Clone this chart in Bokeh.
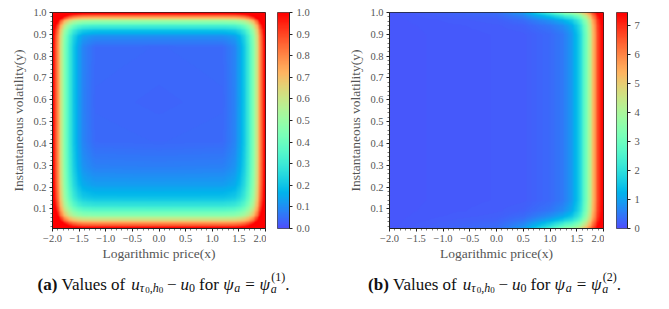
import numpy as np
from bokeh.plotting import figure
from bokeh.models import LinearColorMapper, FixedTicker, Range1d, Label
from bokeh.layouts import column, row
from bokeh.embed import file_html
from bokeh.resources import INLINE

# ---------------- data ----------------
x_ticks = [-2.0, -1.5, -1.0, -0.5, 0.0, 0.5, 1.0, 1.5, 2.0]
x_tick_labels = ["\u22122.0", "\u22121.5", "\u22121.0", "\u22120.5", "0.0", "0.5", "1.0", "1.5", "2.0"]
y_ticks = [0.1, 0.2, 0.3, 0.4, 0.5, 0.6, 0.7, 0.8, 0.9, 1.0]
y_tick_labels = ["0.1", "0.2", "0.3", "0.4", "0.5", "0.6", "0.7", "0.8", "0.9", "1.0"]
cb_a_ticks = [0.0, 0.1, 0.2, 0.3, 0.4, 0.5, 0.6, 0.7, 0.8, 0.9, 1.0]
cb_a_labels = ["0.0", "0.1", "0.2", "0.3", "0.4", "0.5", "0.6", "0.7", "0.8", "0.9", "1.0"]
cb_b_ticks = [0, 1, 2, 3, 4, 5, 6, 7]
cb_b_labels = ["0", "1", "2", "3", "4", "5", "6", "7"]
x_min, x_max = -2.0, 2.0
y_min, y_max = 0.01, 1.0
cb_a_high = 1.0
cb_b_high = 7.45

# panel (a): value against distance from the left / right edge (x units)
a_side_dist = [0.0, 0.05, 0.10, 0.15, 0.20, 0.27, 0.36, 0.46, 0.58, 0.8, 4.0]
a_side_val = [1.0, 0.90, 0.76, 0.62, 0.50, 0.36, 0.24, 0.14, 0.07, 0.025, 0.01]
# value against distance from the top edge (y units)
a_top_dist = [0.0, 0.012, 0.025, 0.04, 0.06, 0.08, 0.11, 0.16, 1.0]
a_top_val = [1.0, 0.88, 0.68, 0.48, 0.32, 0.20, 0.09, 0.03, 0.01]
# value against distance from the bottom edge (y units)
a_bot_dist = [0.0, 0.015, 0.03, 0.06, 0.10, 0.14, 0.20, 0.28, 0.40, 1.0]
a_bot_val = [1.0, 0.86, 0.70, 0.46, 0.29, 0.19, 0.12, 0.07, 0.03, 0.01]

# panel (b): value against distance from the right edge (x units)
b_right_dist = [0.0, 0.05, 0.11, 0.20, 0.26, 0.36, 0.45, 0.60, 0.75, 1.0, 1.5, 4.0]
b_right_val = [7.45, 7.2, 6.5, 5.0, 4.0, 2.6, 1.6, 0.85, 0.5, 0.3, 0.16, 0.10]
# extra value reached at the top / bottom edge, against distance from the right edge
b_edge_dist = [0.0, 0.2, 0.4, 0.7, 1.1, 1.5, 2.0, 4.0]
b_edge_extra = [0.4, 1.5, 2.6, 2.9, 1.7, 0.7, 0.2, 0.0]
# share of that extra value against distance from the top / bottom edge (y units)
b_top_dist = [0.0, 0.01, 0.02, 0.035, 0.06, 0.10, 1.0]
b_top_share = [1.0, 0.75, 0.5, 0.25, 0.08, 0.0, 0.0]
b_bot_dist = [0.0, 0.015, 0.03, 0.05, 0.08, 0.13, 1.0]
b_bot_share = [1.0, 0.75, 0.5, 0.25, 0.08, 0.0, 0.0]

# ---------------- fields ----------------
n = 260
xc = np.linspace(x_min, x_max, n)
yc = np.linspace(y_min, y_max, n)
X, Y = np.meshgrid(xc, yc)
dside = np.minimum(X - x_min, x_max - X)
dtop = y_max - Y
dbot = Y - y_min

ux = np.interp(dside, a_side_dist, a_side_val)
uy = np.maximum(np.interp(dtop, a_top_dist, a_top_val), np.interp(dbot, a_bot_dist, a_bot_val))
pw = 1.6
field_a = np.clip((ux ** pw + uy ** pw) ** (1.0 / pw), 0, cb_a_high)

dright = x_max - X
vx = np.interp(dright, b_right_dist, b_right_val)
share = np.maximum(np.interp(dtop, b_top_dist, b_top_share), np.interp(dbot, b_bot_dist, b_bot_share))
field_b = np.clip(vx + np.interp(dright, b_edge_dist, b_edge_extra) * share, 0, cb_b_high)

# rainbow palette (lower end trimmed, as in the picture)
t = np.linspace(0.1, 1.0, 256)
rr = np.clip(np.abs(2 * t - 0.5), 0, 1)
gg = np.clip(np.sin(np.pi * t), 0, 1)
bb = np.clip(np.cos(np.pi * t / 2), 0, 1)
palette = ["#%02x%02x%02x" % (int(round(255 * a)), int(round(255 * b)), int(round(255 * c)))
           for a, b, c in zip(rr, gg, bb)]

TICK_FONT = "Liberation Serif"
GRAY = "#555555"
DARK = "#222222"
H = 264          # height of the plot row
TOP, BOTTOM = 12, 36


def style_axis(ax):
    ax.major_label_text_font = TICK_FONT
    ax.major_label_text_font_size = "10.5px"
    ax.major_label_text_color = GRAY
    ax.axis_label_text_font = TICK_FONT
    ax.axis_label_text_font_size = "13.5px"
    ax.axis_label_text_font_style = "normal"
    ax.axis_label_text_color = GRAY
    ax.axis_line_color = DARK
    ax.major_tick_in = 0
    ax.major_tick_out = 3
    ax.minor_tick_in = 0
    ax.minor_tick_out = 2
    ax.major_tick_line_color = DARK
    ax.minor_tick_line_color = DARK
    ax.minor_tick_line_width = 0.6
    ax.major_label_standoff = 3
    ax.axis_label_standoff = 3


def heat(field, mapper, width, bl):
    p = figure(width=width, height=H, x_range=Range1d(x_min, x_max), y_range=Range1d(y_min, y_max),
               output_backend="svg", toolbar_location=None,
               min_border_left=bl, min_border_right=1, min_border_top=TOP, min_border_bottom=BOTTOM)
    p.image(image=[field], x=x_min, y=y_min, dw=x_max - x_min, dh=y_max - y_min, color_mapper=mapper)
    p.grid.visible = False
    p.outline_line_color = DARK
    p.outline_line_width = 1
    p.xaxis.ticker = FixedTicker(ticks=x_ticks, minor_ticks=[float(v) for v in np.round(np.arange(-2.0, 2.001, 0.1), 2)])
    p.xaxis.major_label_overrides = dict(zip(x_ticks, x_tick_labels))
    p.yaxis.ticker = FixedTicker(ticks=y_ticks, minor_ticks=[float(v) for v in np.round(np.arange(0.02, 1.0, 0.02), 2)])
    p.yaxis.major_label_overrides = dict(zip(y_ticks, y_tick_labels))
    p.xaxis.axis_label = "Logarithmic price(x)"
    p.yaxis.axis_label = "Instantaneous volatility(y)"
    style_axis(p.xaxis[0])
    style_axis(p.yaxis[0])
    p.xaxis.axis_label_standoff = 1
    p.yaxis.axis_label_standoff = 4
    return p


def colorbar(mapper, high, ticks, labels, width, bl, bar_w):
    c = figure(width=width, height=H, x_range=Range1d(0, 1), y_range=Range1d(0, high),
               output_backend="svg", toolbar_location=None, x_axis_location=None, y_axis_location="right",
               min_border_left=bl, min_border_right=width - bl - bar_w, min_border_top=TOP, min_border_bottom=BOTTOM)
    grad = np.linspace(0, high, 400).reshape(-1, 1)
    c.image(image=[grad], x=0, y=0, dw=1, dh=high, color_mapper=mapper)
    c.grid.visible = False
    c.outline_line_color = DARK
    c.outline_line_width = 0.8
    c.yaxis.ticker = FixedTicker(ticks=ticks)
    c.yaxis.major_label_overrides = dict(zip(ticks, labels))
    style_axis(c.yaxis[0])
    c.yaxis.minor_tick_line_color = None
    c.yaxis.major_label_standoff = 4
    return c


map_a = LinearColorMapper(palette=palette, low=0, high=cb_a_high)
map_b = LinearColorMapper(palette=palette, low=0, high=cb_b_high)

fa = heat(field_a, map_a, 266, 52)
ca = colorbar(map_a, cb_a_high, cb_a_ticks, cb_a_labels, 64, 11, 12)
fb = heat(field_b, map_b, 274, 59)
cbb = colorbar(map_b, cb_b_high, cb_b_ticks, cb_b_labels, 60, 12, 11)

# ---------------- captions ----------------
CAP_W, CAP_H = 664, 42
cap = figure(width=CAP_W, height=CAP_H, x_range=Range1d(0, CAP_W), y_range=Range1d(CAP_H, 0),
             output_backend="svg", toolbar_location=None, min_border=0,
             x_axis_location=None, y_axis_location=None)
cap.grid.visible = False
cap.outline_line_color = None

F, S, SS = 17.0, 12.0, 9.0


def caption(letter, sup, center):
    # (text, style, size, dy, advance_em, gap_before_px)
    pieces = [
        ("(" + letter + ")", "bold", F, 0, 1.166 if letter == "a" else 1.222, 0),
        ("Values of", "normal", F, 0, 3.86, 4.2),
        ("u", "italic", F, 0, 0.50, 4.2),
        ("\u03c4", "italic", S, 3.5, 0.45, 0),
        ("0", "normal", SS, 5.5, 0.50, 0),
        (",", "normal", S, 3.5, 0.25, 0),
        ("h", "italic", S, 3.5, 0.50, 0),
        ("0", "normal", SS, 5.5, 0.50, 0),
        ("\u2212", "normal", F, 0, 0.564, 3.8),
        ("u", "italic", F, 0, 0.50, 3.8),
        ("0", "normal", S, 3.5, 0.50, 0),
        ("for", "normal", F, 0, 1.166, 4.2),
        ("\u03c8", "italic", F, 0, 0.66, 4.2),
        ("a", "italic", S, 3.5, 0.50, 0),
        ("=", "normal", F, 0, 0.564, 4.8),
        ("\u03c8", "italic", F, 0, 0.66, 4.8),
        ("a", "italic", S, 4.0, 0.0, 0),
        ("(" + sup + ")", "normal", S, -7.5, 1.166, 0.5),
        (".", "normal", F, 0, 0.25, 0),
    ]
    total = sum(pc[4] * pc[2] + pc[5] for pc in pieces)
    xcur = center - total / 2.0
    for txt, style, size, dy, adv, gap in pieces:
        xcur += gap
        cap.add_layout(Label(x=xcur, y=20 + dy, text=txt, text_font="Liberation Serif",
                             text_font_size="%.1fpx" % size, text_font_style=style,
                             text_color="#111111", text_baseline="alphabetic", text_align="left"))
        xcur += adv * size


caption("a", "1", 163)
caption("b", "2", 494)

layout = column(row(fa, ca, fb, cbb), cap)
open("out.html", "w").write(file_html(layout, INLINE))
